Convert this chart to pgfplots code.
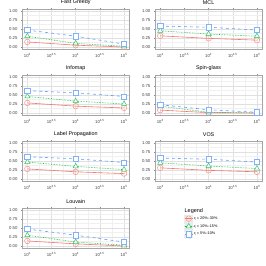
\documentclass[border=0pt]{standalone}
\usepackage{fontspec}
\setmainfont{Liberation Sans}
\usepackage{pgfplots}
\pgfplotsset{compat=1.18}
\definecolor{cr}{HTML}{F8766D}
\definecolor{cg}{HTML}{00BA38}
\definecolor{cb}{HTML}{619CFF}
\pgfkeys{/pgf/number format/fixed, /pgf/number format/fixed zerofill, /pgf/number format/precision=2, /pgf/number format/assume math mode=true}
\pgfplotsset{
 legend image code/.code={
    \fill[black!8] (0bp,-3.6bp) rectangle (8bp,3.6bp);
    \draw[mark repeat=2,mark phase=2,#1] plot coordinates {(0bp,0bp)(4bp,0bp)(8bp,0bp)};
 },
}
% x values are log10 of the network size (10^3, 10^4, 10^5)
\pgfplotsset{
 mypanel/.style={
  scale only axis, width=106.4bp, height=39.6bp,
  xmin=2.9, xmax=5.1,
  ymin=-0.05, ymax=1.05,
  xtick={3,3.5,4,4.5,5},
  xticklabels={10\textsuperscript{3},10\textsuperscript{3.5},10\textsuperscript{4},10\textsuperscript{4.5},10\textsuperscript{5}},
  minor xtick={3.25,3.75,4.25,4.75},
  ytick={0,0.25,0.5,0.75,1},
  minor ytick={0.125,0.375,0.625,0.875},
  grid=both,
  major grid style={black!12, line width=0.4bp},
  minor grid style={black!6, line width=0.25bp},
  axis line style={black!35, line width=0.5bp},
  tick style={black!45, line width=0.4bp},
  tick align=outside, major tick length=1.5bp, minor tick length=0pt,
  tick label style={font=\fontsize{4.3}{5}\selectfont, text=black!75},
  xticklabel style={yshift=0.5bp},
  title style={font=\fontsize{5.4}{6}\selectfont, yshift=-4.5bp},
 },
 sr/.style={color=cr, solid, line width=0.6bp, mark size=2.8bp, mark=o, mark options={solid, fill=white, draw=cr!80, line width=0.5bp}},
 sg/.style={color=cg, densely dotted, line width=0.6bp, mark size=3bp, mark=triangle*, mark options={solid, fill=white, draw=cg!80, line width=0.5bp}},
 sb/.style={color=cb, dashed, line width=0.6bp, mark size=2.6bp, mark=square*, mark options={solid, fill=white, draw=cb!80, line width=0.5bp}},
}
\newcommand{\threeseries}[9]{%
 \addplot[sr] coordinates {(3,#1) (4,#2) (5,#3)};
 \addplot[sg] coordinates {(3,#4) (4,#5) (5,#6)};
 \addplot[sb] coordinates {(3,#7) (4,#8) (5,#9)};
}
\begin{document}
\begin{tikzpicture}
\path[use as bounding box] (0,0) rectangle (266bp,266bp);
% Row 1
\begin{axis}[mypanel, at={(22.5bp,217.2bp)}, anchor=south west, title={Fast Greedy}]
\threeseries{0.14}{0.05}{0.00}{0.30}{0.10}{0.02}{0.47}{0.30}{0.08}
\end{axis}
\begin{axis}[mypanel, at={(155.4bp,217.2bp)}, anchor=south west, title={MCL}]
\threeseries{0.31}{0.24}{0.19}{0.45}{0.36}{0.30}{0.58}{0.55}{0.47}
\end{axis}
% Row 2
\begin{axis}[mypanel, at={(22.5bp,151.2bp)}, anchor=south west, title={Infomap}]
\threeseries{0.28}{0.19}{0.14}{0.46}{0.33}{0.25}{0.62}{0.56}{0.46}
\end{axis}
\begin{axis}[mypanel, at={(155.4bp,151.2bp)}, anchor=south west, title={Spin-glass}]
\threeseries{0.08}{0.01}{0.00}{0.19}{0.02}{0.00}{0.23}{0.09}{0.02}
\end{axis}
% Row 3
\begin{axis}[mypanel, at={(22.5bp,85.2bp)}, anchor=south west, title={Label Propagation}]
\threeseries{0.28}{0.20}{0.15}{0.47}{0.35}{0.26}{0.62}{0.56}{0.46}
\end{axis}
\begin{axis}[mypanel, at={(155.4bp,85.2bp)}, anchor=south west, title={VOS}]
\threeseries{0.31}{0.24}{0.20}{0.45}{0.36}{0.29}{0.58}{0.55}{0.47}
\end{axis}
% Row 4
\begin{axis}[mypanel, at={(22.5bp,18.2bp)}, anchor=south west, title={Louvain},
  legend style={at={(1.52,0.84)}, anchor=north west, draw=none, fill=none,
    font=\fontsize{3.8}{4.5}\selectfont, row sep=0pt, inner sep=0pt,
    nodes={inner sep=1pt}},
  legend cell align=left]
\threeseries{0.14}{0.06}{0.00}{0.30}{0.11}{0.02}{0.47}{0.30}{0.11}
\addlegendentry{ς = 20\%–30\%}
\addlegendentry{ς = 10\%–15\%}
\addlegendentry{ς = 5\%–10\%}
\end{axis}
\node[anchor=base west, inner sep=0pt, font=\fontsize{5.5}{6}\selectfont] at (184.5bp,53.5bp) {Legend};
\end{tikzpicture}
\end{document}
